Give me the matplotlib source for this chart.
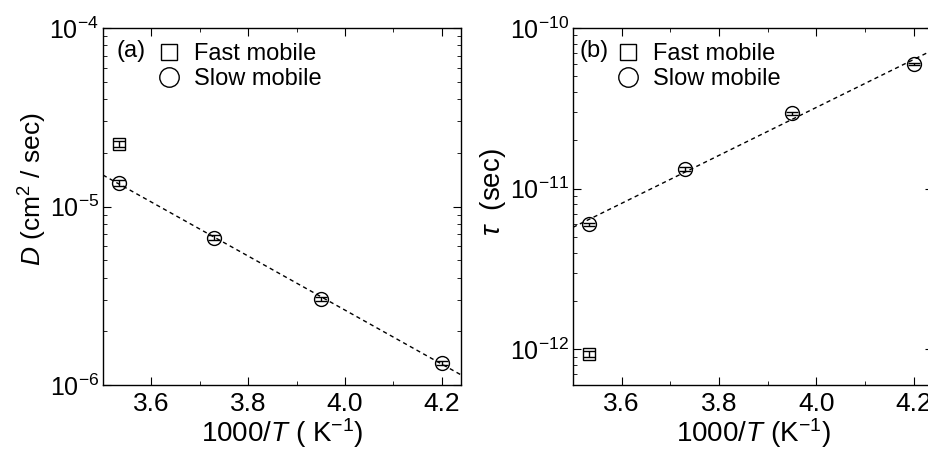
import numpy as np
import matplotlib
matplotlib.use("Agg")
import matplotlib.pyplot as plt
from matplotlib.lines import Line2D
from matplotlib.ticker import LogLocator, MultipleLocator, NullFormatter

plt.rcParams.update({"font.family": "Liberation Sans", "font.size": 14,
                     "mathtext.fontset": "custom",
                     "mathtext.rm": "Liberation Sans",
                     "mathtext.it": "Liberation Sans:italic",
                     "mathtext.bf": "Liberation Sans:bold"})

# panel (a): diffusion coefficient
x_fast = [3.533]
D_fast = [2.24e-5]
D_fast_err = [0.08e-5]
x_slow = [3.533, 3.73, 3.95, 4.20]
D_slow = [1.35e-5, 6.7e-6, 3.03e-6, 1.33e-6]
D_slow_err = [0.05e-5, 0.2e-6, 0.08e-6, 0.04e-6]
fitD_x = [3.5, 4.24]
fitD_y = [1.5e-5, 1.14e-6]

# panel (b): relaxation time
tau_fast = [9.3e-13]
tau_fast_err = [0.4e-13]
tau_slow = [6.0e-12, 1.32e-11, 2.95e-11, 5.97e-11]
tau_slow_err = [0.15e-12, 0.04e-11, 0.06e-11, 0.1e-11]
fitT_x = [3.5, 4.24]
fitT_y = [5.75e-12, 7.3e-11]

fig = plt.figure(figsize=(9.29, 4.5), dpi=100)
ax1 = fig.add_axes([103/929, 1-385/450, 358/929, 357/450])
ax2 = fig.add_axes([573/929, 1-385/450, 360/929, 357/450])


def style(ax):
    ax.set_yscale("log")
    ax.set_xlim(3.5, 4.24)
    ax.xaxis.set_major_locator(MultipleLocator(0.2))
    ax.xaxis.set_minor_locator(MultipleLocator(0.1))
    ax.yaxis.set_major_locator(LogLocator(base=10, numticks=10))
    ax.yaxis.set_minor_locator(LogLocator(base=10, subs=np.arange(2, 10), numticks=10))
    ax.yaxis.set_minor_formatter(NullFormatter())
    ax.tick_params(which="both", direction="in", top=True, right=True)
    ax.tick_params(axis="x", labelsize=19, pad=5)
    ax.tick_params(axis="y", labelsize=18, pad=3)
    ax.tick_params(which="major", length=6)
    ax.tick_params(which="minor", length=3)
    for s in ax.spines.values():
        s.set_linewidth(1.0)


def points(ax, xf, yf, ef, xs, ys, es, fx, fy, tag, tag_x, leg_x):
    ax.plot(fx, fy, ls=(0, (3, 2.5)), color="k", lw=1.0, zorder=1)
    ax.errorbar(xf, yf, yerr=ef, fmt="s", ms=8.5, mfc="none", mec="k", mew=1.0,
                ecolor="k", elinewidth=1.0, capsize=4, capthick=1.0, zorder=3)
    ax.errorbar(xs, ys, yerr=es, fmt="o", ms=10, mfc="none", mec="k", mew=1.0,
                ecolor="k", elinewidth=1.0, capsize=4.5, capthick=1.0, zorder=3)
    ax.text(tag_x, 0.935, tag, transform=ax.transAxes, fontsize=17, va="center", ha="left")
    handles = [Line2D([], [], ls="none", marker="s", ms=12, mfc="none", mec="k", mew=1.0),
               Line2D([], [], ls="none", marker="o", ms=14, mfc="none", mec="k", mew=1.0)]
    ax.legend(handles, ["Fast mobile", "Slow mobile"], loc="upper left",
              bbox_to_anchor=(leg_x, 1.003), frameon=False, fontsize=17,
              handletextpad=0.55, labelspacing=0.12, handlelength=1.0,
              borderaxespad=0.3)


style(ax1)
ax1.set_ylim(1e-6, 1e-4)
points(ax1, x_fast, D_fast, D_fast_err, x_slow, D_slow, D_slow_err, fitD_x, fitD_y,
       "(a)", 0.038, 0.105)
ax1.set_ylabel(r"$\mathit{D}$ (cm$^2$ / sec)", fontsize=19)
ax1.yaxis.set_label_coords(-0.15, 0.55)
ax1.set_xlabel(r"1000/$\mathit{T}$ ( K$^{-1}$)", fontsize=20, labelpad=0)

style(ax2)
ax2.set_ylim(6e-13, 1e-10)
points(ax2, x_fast, tau_fast, tau_fast_err, x_slow, tau_slow, tau_slow_err, fitT_x, fitT_y,
       "(b)", 0.018, 0.075)
ax2.set_ylabel(r"$\mathit{\tau}$  (sec)", fontsize=20)
ax2.yaxis.set_label_coords(-0.18, 0.54)
ax2.set_xlabel(r"1000/$\mathit{T}$ (K$^{-1}$)", fontsize=20, labelpad=0)

fig.savefig("out.png", dpi=100)
